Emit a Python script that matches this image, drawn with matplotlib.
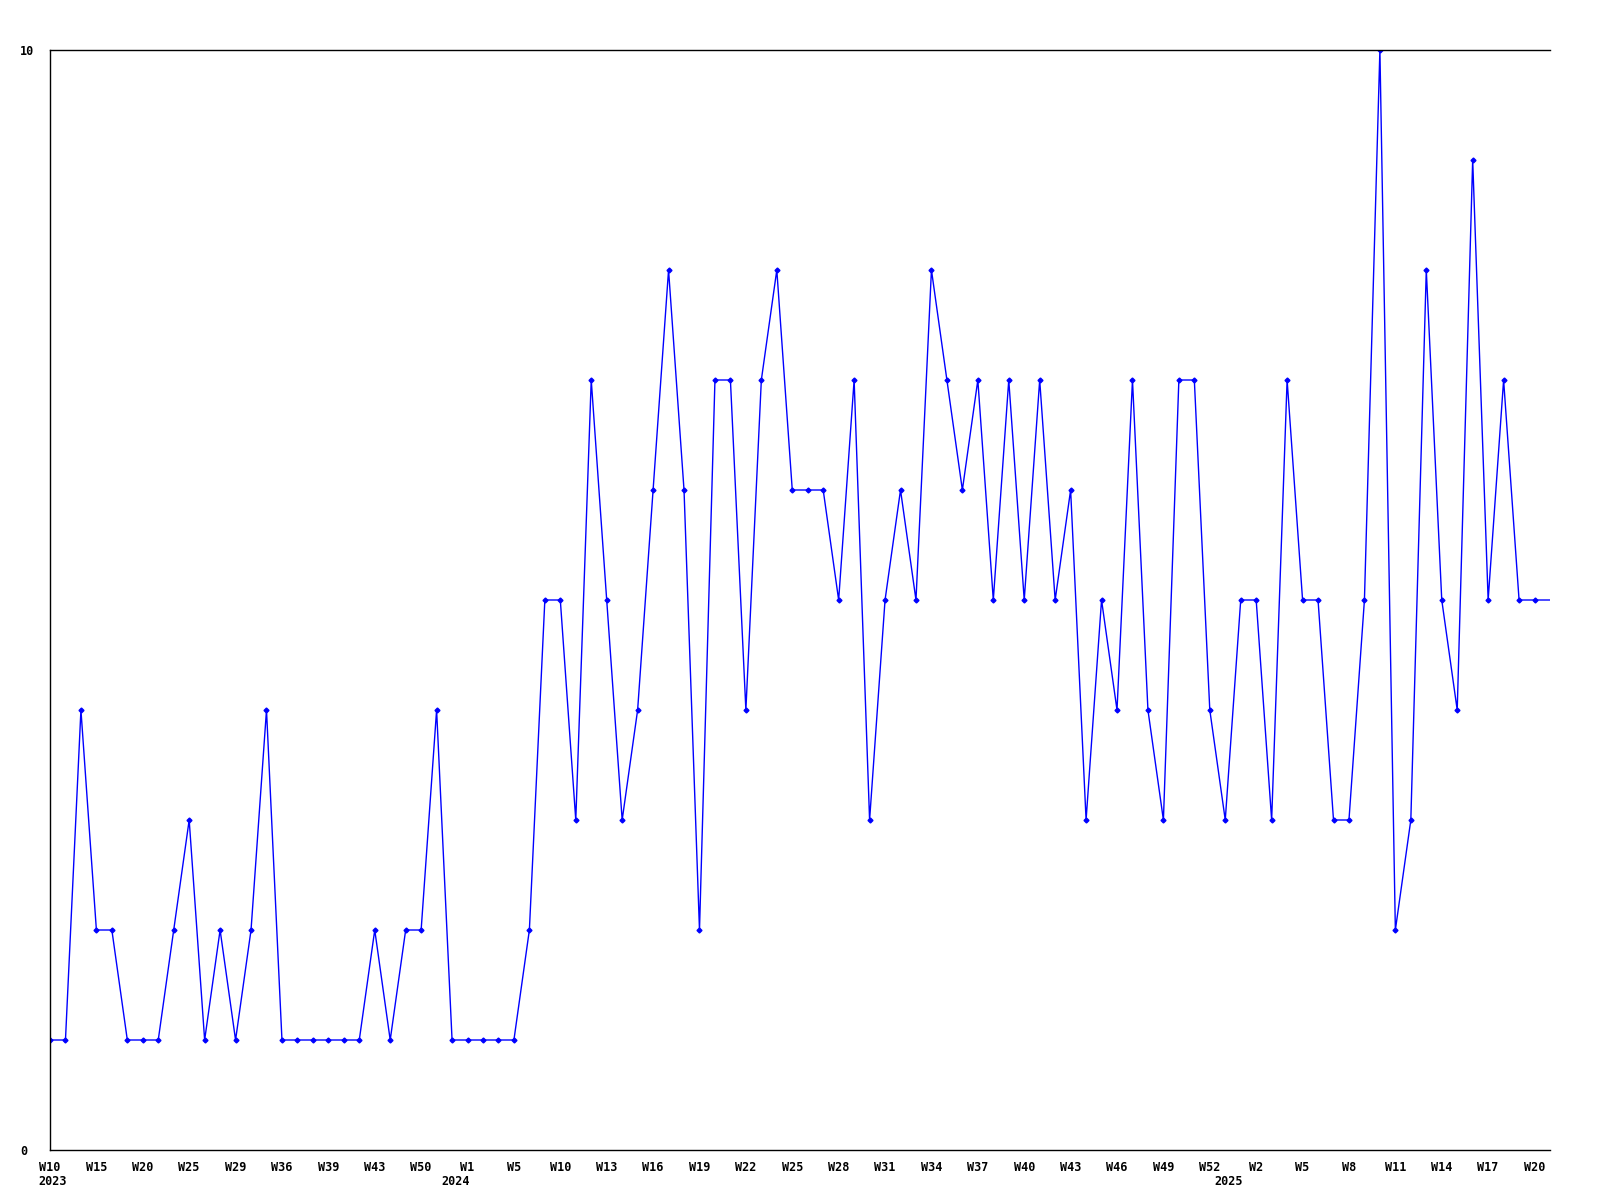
import matplotlib
matplotlib.use("Agg")
import matplotlib.pyplot as plt

# weekly counts, one point per week that has data (gaps in weeks are skipped)
values = [1, 1, 4, 2, 2, 1, 1, 1, 2, 3, 1, 2, 1, 2, 4, 1, 1, 1, 1, 1, 1, 2, 1, 2, 2, 4, 1, 1, 1, 1, 1, 2,
          5, 5, 3, 7, 5, 3, 4, 6, 8, 6, 2, 7, 7, 4, 7, 8, 6, 6, 6, 5, 7, 3, 5, 6, 5, 8, 7, 6, 7, 5,
          7, 5, 7, 5, 6, 3, 5, 4, 7, 4, 3, 7, 7, 4, 3, 5, 5, 3, 7, 5, 5, 3, 3, 5, 10, 2, 3, 8, 5, 4, 9, 5, 7, 5, 5, 5]

# every third point gets a label
week_labels = ["W10", "W15", "W20", "W25", "W29", "W36", "W39", "W43", "W50",
               "W1", "W5", "W10", "W13", "W16", "W19", "W22", "W25", "W28", "W31",
               "W34", "W37", "W40", "W43", "W46", "W49", "W52",
               "W2", "W5", "W8", "W11", "W14", "W17", "W20"]
years = ["2023", "2024", "2025"]
year_pos = [0.2, 26.2, 76.2]

x = list(range(len(values)))
tick_pos = x[::3]

fig = plt.figure(figsize=(16, 12), dpi=100)
ax = fig.add_axes([50 / 1600, 50 / 1200, 1500 / 1600, 1100 / 1200])

# last point sits on the right edge, no marker drawn there
ax.plot(x, values, color="#0000ff", linewidth=1.0, marker="D", markersize=2.5,
        markevery=list(range(len(values) - 1)))

ax.set_xlim(0, len(values) - 1)
ax.set_ylim(0, 10)

ax.spines["right"].set_visible(False)
for s in ["left", "top", "bottom"]:
    ax.spines[s].set_linewidth(1.0)
    ax.spines[s].set_color("black")

font = dict(family="DejaVu Sans Mono", weight="bold", size=8.5)

ax.set_xticks(tick_pos)
ax.set_xticklabels(week_labels, fontdict=font)
ax.tick_params(axis="x", length=0, pad=8)

ax.set_yticks([0, 10])
ax.set_yticklabels(["0", "10"], fontdict=font, ha="left")
ax.tick_params(axis="y", length=0, pad=21.6)

for yr, p in zip(years, year_pos):
    ax.text(p, -0.0282, yr, transform=ax.get_xaxis_transform(), ha="center", va="center", **font)

fig.savefig("out.png", dpi=100)
